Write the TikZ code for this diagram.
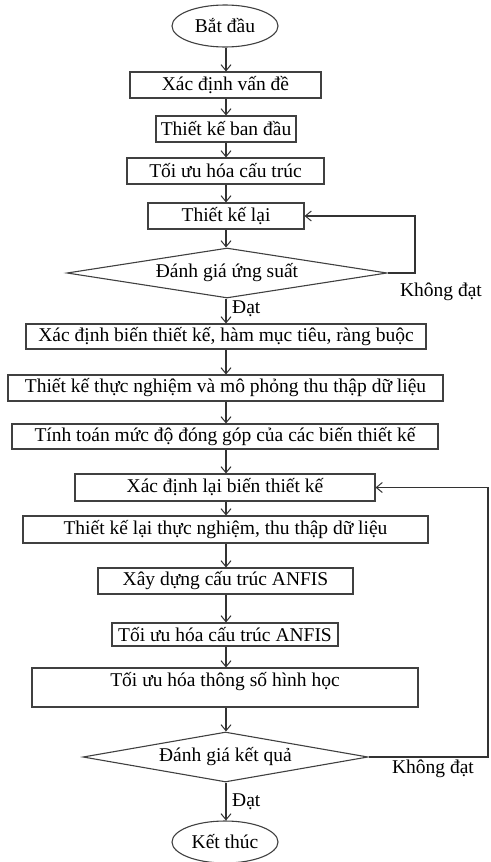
\documentclass[tikz,border=0pt]{standalone}
\usepackage{fontspec}
\setmainfont{Liberation Serif}
\usetikzlibrary{arrows.meta,shapes.geometric}
\begin{document}
\begin{tikzpicture}[x=1pt,y=-1pt,
  every node/.style={font=\fontsize{19.5}{22}\selectfont, text=black},
  stepbox/.style={draw=black!75, line width=1.1pt, rectangle, inner sep=0pt},
  terminal/.style={draw=black!75, line width=1.1pt, ellipse, inner sep=0pt,
    minimum width=106, minimum height=42},
  decision/.style={draw=black!75, line width=1.1pt, diamond, inner sep=0pt},
  arr/.style={draw=black!80, line width=1.1pt,
    -{Straight Barb[length=6pt,width=10pt,line width=1pt]}},
  lbl/.style={inner sep=0pt}]
  \useasboundingbox (0,0) rectangle (490,862);

  % main axis and return lines
  \coordinate (ax) at (226,0);
  \coordinate (r1) at (415,0);
  \coordinate (r2) at (488,0);

  \node[terminal] (start) at (225,26) {Bắt đầu};
  \node[stepbox, minimum width=191, minimum height=26] (b1) at (225.5,85) {Xác định vấn đề};
  \node[stepbox, minimum width=140, minimum height=26] (b2) at (226,129) {Thiết kế ban đầu};
  \node[stepbox, minimum width=197, minimum height=26] (b3) at (225.5,171) {Tối ưu hóa cấu trúc};
  \node[stepbox, minimum width=156, minimum height=26] (b4) at (226,216) {Thiết kế lại};
  \node[decision, aspect=6.4, minimum width=320, minimum height=50] (d1) at (227,273) {Đánh giá ứng suất};
  \node[stepbox, minimum width=400, minimum height=25] (b5) at (226,336.5) {Xác định biến thiết kế, hàm mục tiêu, ràng buộc};
  \node[stepbox, minimum width=435, minimum height=26] (b6) at (225.5,388) {Thiết kế thực nghiệm và mô phỏng thu thập dữ liệu};
  \node[stepbox, minimum width=426, minimum height=25] (b7) at (225,436.5) {Tính toán mức độ đóng góp của các biến thiết kế};
  \node[stepbox, minimum width=300, minimum height=27] (b8) at (225,487.5) {Xác định lại biến thiết kế};
  \node[stepbox, minimum width=405, minimum height=27] (b9) at (225.5,529.5) {Thiết kế lại thực nghiệm, thu thập dữ liệu};
  \node[stepbox, minimum width=255, minimum height=26] (b10) at (225.5,581) {Xây dựng cấu trúc ANFIS};
  \node[stepbox, minimum width=226, minimum height=23] (b11) at (225,634.5) {Tối ưu hóa cấu trúc ANFIS};
  \node[stepbox, minimum width=386, text height=18pt, text depth=21pt] (b12) at (225,687.5) {Tối ưu hóa thông số hình học};
  \node[decision, aspect=5.7, minimum width=285, minimum height=50] (d2) at (225.5,757) {Đánh giá kết quả};
  \node[terminal] (stop) at (225,842) {Kết thúc};

  % branch labels
  \node[lbl, anchor=west] (ok1) at (232,309) {Đạt};
  \node[lbl] (fail1) at (441,292) {Không đạt};
  \node[lbl, anchor=west] (ok2) at (232,802) {Đạt};
  \node[lbl] (fail2) at (433,769) {Không đạt};

  % forward connectors
  \draw[arr] (start.south -| ax) -- (b1.north -| ax);
  \draw[arr] (b1.south -| ax) -- (b2.north -| ax);
  \draw[arr] (b2.south -| ax) -- (b3.north -| ax);
  \draw[arr] (b3.south -| ax) -- (b4.north -| ax);
  \draw[arr] (b4.south -| ax) -- (d1.north -| ax);
  \draw[arr] (d1.south -| ax) -- (b5.north -| ax);
  \draw[arr] (b5.south -| ax) -- (b6.north -| ax);
  \draw[arr] (b6.south -| ax) -- (b7.north -| ax);
  \draw[arr] (b7.south -| ax) -- (b8.north -| ax);
  \draw[arr] (b8.south -| ax) -- (b9.north -| ax);
  \draw[arr] (b9.south -| ax) -- (b10.north -| ax);
  \draw[arr] (b10.south -| ax) -- (b11.north -| ax);
  \draw[arr] (b11.south -| ax) -- (b12.north -| ax);
  \draw[arr] (b12.south -| ax) -- (d2.north -| ax);
  \draw[arr] (d2.south -| ax) -- (stop.north -| ax);

  % return loops
  \draw[arr] (d1.east) -- (d1.east -| r1) |- (b4.east);
  \draw[arr] (d2.east) -- (d2.east -| r2) |- (b8.east);
\end{tikzpicture}
\end{document}
